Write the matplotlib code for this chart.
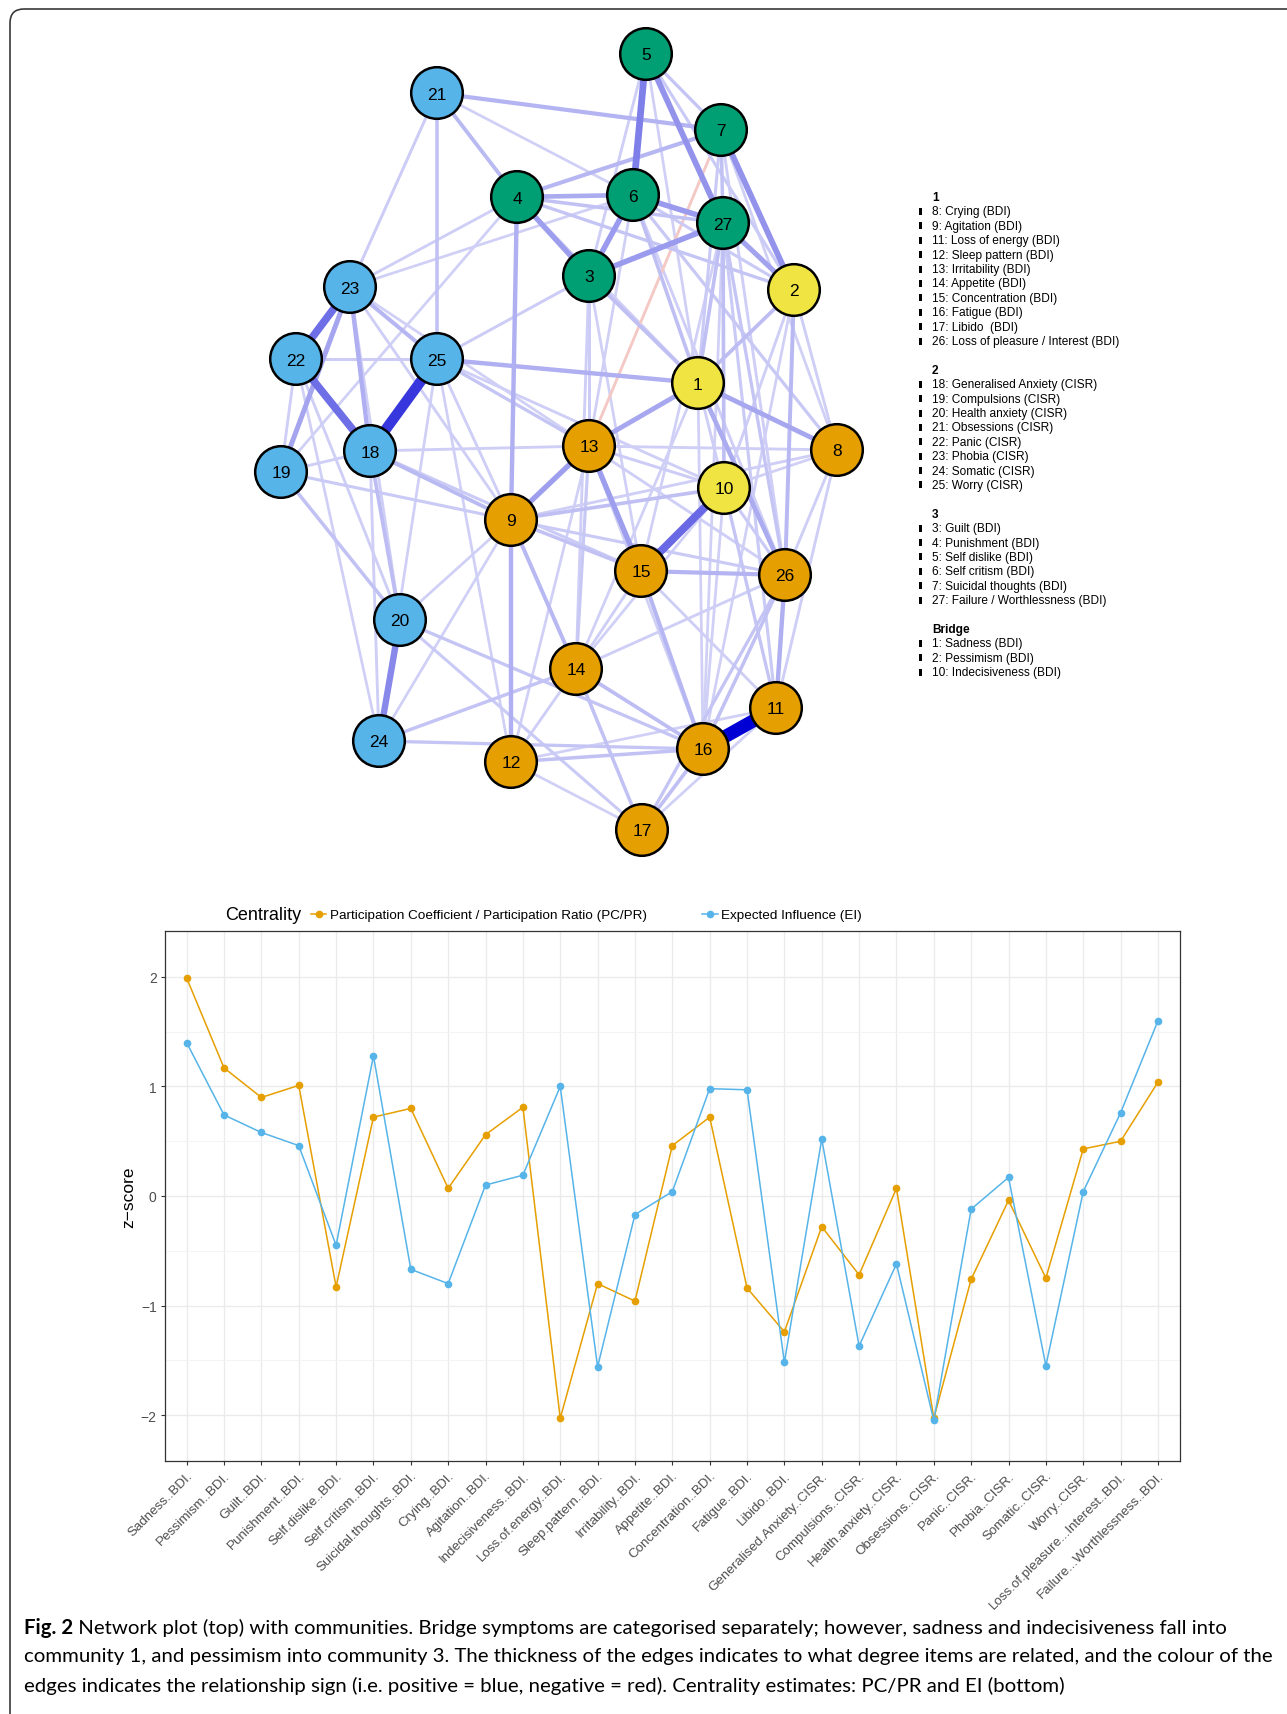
import numpy as np
import matplotlib
matplotlib.use("Agg")
import matplotlib.pyplot as plt
from matplotlib.patches import Circle, Rectangle, FancyBboxPatch

plt.rcParams['font.family'] = ['Liberation Sans', 'DejaVu Sans']

W, H = 1287, 1715

# ---------------- network data ----------------
node_x = [698, 794, 589, 517, 646, 633, 721, 837, 511, 724, 776, 511, 589, 576,
          641, 703, 642, 370, 281, 400, 437, 296, 350, 379, 437, 785, 723]
node_y = [384, 291, 277, 198, 55, 196, 131, 451, 521, 489, 709, 763, 447, 670,
          572, 750, 831, 452, 473, 621, 94, 360, 288, 742, 360, 576, 224]
node_group = ['B', 'B', '3', '3', '3', '3', '3', '1', '1', 'B', '1', '1', '1', '1',
              '1', '1', '1', '2', '2', '2', '2', '2', '2', '2', '2', '1', '3']
group_colors = {'1': '#E69F00', '2': '#56B4E9', '3': '#009E73', 'B': '#F0E442'}

# (from, to, weight); negative weight = red edge
edges = [
    (16, 11, 1.0), (25, 18, 0.75), (22, 18, 0.5), (23, 22, 0.5), (10, 15, 0.52),
    (5, 6, 0.42), (5, 27, 0.33), (7, 2, 0.33), (20, 24, 0.38), (6, 27, 0.3),
    (3, 27, 0.3), (6, 3, 0.3), (4, 3, 0.28), (13, 9, 0.28), (13, 15, 0.28),
    (1, 13, 0.24), (1, 8, 0.24), (1, 26, 0.22), (23, 19, 0.25), (23, 18, 0.2),
    (4, 9, 0.2), (4, 6, 0.22), (27, 2, 0.26), (21, 7, 0.18), (25, 1, 0.2),
    (26, 11, 0.2), (15, 16, 0.17), (9, 12, 0.2), (9, 14, 0.16), (15, 26, 0.18),
    (2, 26, 0.16), (7, 4, 0.17), (21, 4, 0.15), (21, 25, 0.12), (23, 25, 0.17),
    (18, 9, 0.15), (18, 20, 0.14), (19, 20, 0.12), (14, 16, 0.14), (14, 17, 0.12),
    (16, 17, 0.13), (16, 26, 0.12), (17, 26, 0.1), (27, 10, 0.13), (27, 1, 0.13),
    (6, 1, 0.13), (3, 1, 0.13), (2, 1, 0.14), (9, 10, 0.13), (9, 15, 0.12),
    (12, 16, 0.12), (24, 16, 0.1), (24, 14, 0.11), (20, 16, 0.1), (20, 17, 0.08),
    (25, 13, 0.1), (5, 7, 0.1), (5, 2, 0.08), (5, 3, 0.06), (5, 1, 0.05),
    (21, 23, 0.07), (21, 6, 0.05), (7, 27, 0.12), (7, 1, 0.08), (7, 26, 0.06),
    (7, 8, 0.05), (4, 27, 0.12), (4, 2, 0.1), (4, 23, 0.06), (4, 19, 0.05),
    (4, 1, 0.06), (6, 2, 0.08), (6, 8, 0.09), (6, 23, 0.05), (6, 13, 0.05),
    (6, 26, 0.06), (27, 26, 0.1), (27, 11, 0.08), (27, 15, 0.05), (3, 25, 0.07),
    (3, 13, 0.07), (3, 14, 0.06), (3, 15, 0.05), (2, 8, 0.06), (2, 10, 0.06),
    (2, 16, 0.05), (23, 9, 0.06), (23, 13, 0.05), (23, 20, 0.06), (22, 19, 0.06),
    (22, 25, 0.07), (22, 20, 0.06), (22, 24, 0.05), (25, 9, 0.06), (25, 24, 0.05),
    (25, 12, 0.05), (25, 10, 0.06), (1, 10, 0.06), (1, 16, 0.05), (1, 14, 0.05),
    (18, 19, 0.06), (18, 13, 0.06), (18, 24, 0.06), (18, 15, 0.08), (19, 9, 0.08),
    (13, 8, 0.06), (13, 10, 0.07), (13, 26, 0.06), (13, 14, 0.09), (13, 12, 0.05),
    (13, 16, 0.05), (8, 9, 0.06), (8, 26, 0.06), (8, 11, 0.06), (8, 10, 0.05),
    (10, 26, 0.08), (10, 11, 0.1), (10, 14, 0.05), (9, 26, 0.08), (9, 20, 0.05),
    (9, 24, 0.05), (15, 14, 0.06), (15, 11, 0.06), (26, 14, 0.06), (14, 12, 0.06),
    (11, 12, 0.05), (12, 17, 0.05), (16, 27, 0.05), (16, 10, 0.05), (17, 11, 0.05),
    (7, 13, -0.06),
]

legend_blocks = [
    ('1', ['8: Crying (BDI)', '9: Agitation (BDI)', '11: Loss of energy (BDI)',
           '12: Sleep pattern (BDI)', '13: Irritability (BDI)', '14: Appetite (BDI)',
           '15: Concentration (BDI)', '16: Fatigue (BDI)', '17: Libido  (BDI)',
           '26: Loss of pleasure / Interest (BDI)']),
    ('2', ['18: Generalised Anxiety (CISR)', '19: Compulsions (CISR)',
           '20: Health anxiety (CISR)', '21: Obsessions (CISR)', '22: Panic (CISR)',
           '23: Phobia (CISR)', '24: Somatic (CISR)', '25: Worry (CISR)']),
    ('3', ['3: Guilt (BDI)', '4: Punishment (BDI)', '5: Self dislike (BDI)',
           '6: Self critism (BDI)', '7: Suicidal thoughts (BDI)',
           '27: Failure / Worthlessness (BDI)']),
    ('Bridge', ['1: Sadness (BDI)', '2: Pessimism (BDI)', '10: Indecisiveness (BDI)']),
]

# ---------------- centrality data ----------------
items = ['Sadness..BDI.', 'Pessimism..BDI.', 'Guilt..BDI.', 'Punishment..BDI.',
         'Self.dislike..BDI.', 'Self.critism..BDI.', 'Suicidal.thoughts..BDI.',
         'Crying..BDI.', 'Agitation..BDI.', 'Indecisiveness..BDI.',
         'Loss.of.energy..BDI.', 'Sleep.pattern..BDI.', 'Irritability..BDI.',
         'Appetite..BDI.', 'Concentration..BDI.', 'Fatigue..BDI.', 'Libido..BDI.',
         'Generalised.Anxiety..CISR.', 'Compulsions..CISR.', 'Health.anxiety..CISR.',
         'Obsessions..CISR.', 'Panic..CISR.', 'Phobia..CISR.', 'Somatic..CISR.',
         'Worry..CISR.', 'Loss.of.pleasure...Interest..BDI.',
         'Failure...Worthlessness..BDI.']
pcpr = [1.99, 1.17, 0.90, 1.01, -0.83, 0.72, 0.80, 0.07, 0.56, 0.81, -2.03, -0.80,
        -0.96, 0.46, 0.72, -0.84, -1.24, -0.28, -0.72, 0.07, -2.03, -0.76, -0.04,
        -0.75, 0.43, 0.50, 1.04]
ei = [1.40, 0.74, 0.58, 0.46, -0.45, 1.28, -0.67, -0.80, 0.10, 0.19, 1.00, -1.56,
      -0.17, 0.04, 0.98, 0.97, -1.52, 0.52, -1.37, -0.62, -2.05, -0.12, 0.17,
      -1.55, 0.04, 0.76, 1.60]

fig = plt.figure(figsize=(W / 100, H / 100), dpi=100)

# network drawn in a full-figure axes measured in pixels
net = fig.add_axes([0, 0, 1, 1], zorder=0)
net.set_xlim(0, W)
net.set_ylim(H, 0)
net.axis('off')

net.add_patch(FancyBboxPatch((10, 10), 1400, 1800,
                             boxstyle='round,pad=0,rounding_size=14',
                             ec='#3a3a3a', fc='none', lw=1.2))

light = np.array([0.86, 0.86, 0.975])
dark = np.array([0.0, 0.0, 0.83])
px = 72 / 100
for a, b, w in sorted(edges, key=lambda e: abs(e[2])):
    xa, ya = node_x[a - 1], node_y[a - 1]
    xb, yb = node_x[b - 1], node_y[b - 1]
    if w < 0:
        col = '#F4C8C4'
    else:
        col = light + (dark - light) * w
    net.plot([xa, xb], [ya, yb], color=col, lw=(2.2 + 11 * abs(w)) * px,
             solid_capstyle='butt', zorder=1 + abs(w))

for i in range(len(node_x)):
    net.add_patch(Circle((node_x[i], node_y[i]), 25.8, fc=group_colors[node_group[i]],
                         ec='black', lw=1.8, zorder=5))
    net.text(node_x[i], node_y[i] + 1, str(i + 1), ha='center', va='center',
             fontsize=12.5, zorder=6)

line_y = 198
for title, labels in legend_blocks:
    net.text(932, line_y, title, fontsize=8.6, fontweight='bold', va='center')
    line_y += 14.4
    for lab in labels:
        net.add_patch(Rectangle((918.5, line_y - 3.5), 3.5, 7, fc='black', ec='none'))
        net.text(932, line_y, lab, fontsize=8.6, va='center')
        line_y += 14.4
    line_y += 14.4

# ---------------- centrality plot ----------------
ax = fig.add_axes([165 / W, 1 - 1462 / H, 1015 / W, 530 / H], zorder=1)
x = np.arange(1, len(items) + 1)
ax.plot(x, pcpr, color='#E69F00', lw=1.1, marker='o', ms=4.5,
        label='Participation Coefficient / Participation Ratio (PC/PR)')
ax.plot(x, ei, color='#56B4E9', lw=1.1, marker='o', ms=4.5,
        label='Expected Influence (EI)')
ax.set_xlim(0.42, 27.59)
ax.set_ylim(-2.42, 2.42)
ax.set_xticks(x)
ax.set_xticklabels(items, rotation=45, ha='right', va='top',
                   rotation_mode='anchor', fontsize=9.6, color='#4D4D4D')
ax.set_yticks([-2, -1, 0, 1, 2])
ax.set_yticklabels(['\u22122', '\u22121', '0', '1', '2'], fontsize=10, color='#4D4D4D')
ax.set_yticks([-1.5, -0.5, 0.5, 1.5], minor=True)
ax.tick_params(which='major', length=3, color='#333333', width=0.8, pad=3)
ax.tick_params(which='minor', length=0)
ax.grid(which='major', color='#EBEBEB', lw=1.0)
ax.grid(which='minor', axis='y', color='#F3F3F3', lw=0.6)
ax.set_axisbelow(True)
for s in ax.spines.values():
    s.set_color('#333333')
    s.set_linewidth(0.9)

fig.text(129 / W, 1 - 1197 / H, 'z\u2212score', rotation=90, ha='center',
         va='center', fontsize=12.5)
fig.text(225 / W, 1 - 916 / H, 'Centrality', ha='left', va='center', fontsize=13)
ax.legend(loc='center left', bbox_to_anchor=(311 / W, 1 - 916 / H),
          bbox_transform=fig.transFigure, ncol=2, frameon=False, fontsize=9.7,
          handlelength=1.15, handletextpad=0.25, columnspacing=4.1,
          borderaxespad=0, borderpad=0)

# ---------------- caption ----------------
caption = [
    ' Network plot (top) with communities. Bridge symptoms are categorised separately; '
    'however, sadness and indecisiveness fall into',
    'community 1, and pessimism into community 3. The thickness of the edges indicates '
    'to what degree items are related, and the colour of the',
    'edges indicates the relationship sign (i.e. positive = blue, negative = red). '
    'Centrality estimates: PC/PR and EI (bottom)',
]
cap_font = ['Lato', 'DejaVu Sans']
renderer = fig.canvas.get_renderer()
probe = fig.text(0, 0, caption[1], fontsize=10, family=cap_font)
cap_size = 10 * 1248 / probe.get_window_extent(renderer).width
probe.remove()

cap_y = [1628, 1657, 1686]
bold = fig.text(24 / W, 1 - cap_y[0] / H, 'Fig. 2', fontsize=cap_size,
                family=cap_font, fontweight='bold', va='center')
bw = bold.get_window_extent(renderer).width
fig.text((24 + bw) / W, 1 - cap_y[0] / H, caption[0], fontsize=cap_size,
         family=cap_font, va='center')
for line, yy in zip(caption[1:], cap_y[1:]):
    fig.text(24 / W, 1 - yy / H, line, fontsize=cap_size, family=cap_font, va='center')

fig.savefig('out.png', dpi=100)
